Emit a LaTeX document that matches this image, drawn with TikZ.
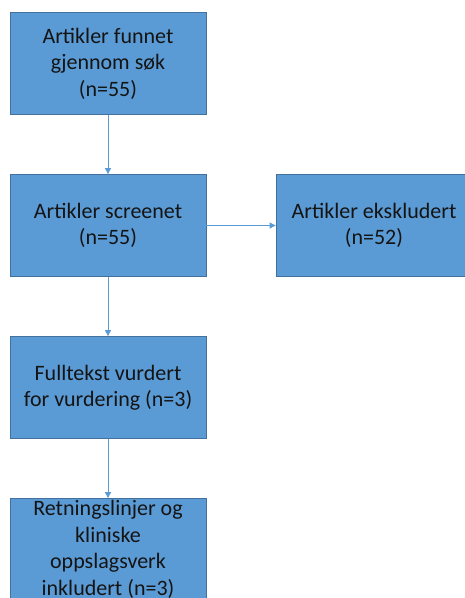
\documentclass[tikz,border=0pt]{standalone}
\usepackage{fontspec}
\setmainfont{Carlito}
\usepackage{tikz}
\usetikzlibrary{arrows.meta}
\definecolor{boxblue}{HTML}{5B9BD5}
\definecolor{boxline}{HTML}{41719C}
\definecolor{boxtext}{HTML}{141414}
\tikzstyle{step box} = [rectangle, minimum width=196pt, minimum height=102pt, inner sep=0pt, align=center, draw=boxline, line width=0.8pt, fill=boxblue, text=boxtext, font=\fontsize{22}{26.5}\selectfont]
\tikzstyle{arrow} = [draw=boxblue, line width=0.9pt, -{Triangle[length=6pt,width=6pt]}]

\begin{document}
\begin{tikzpicture}[node distance=162pt]
  \useasboundingbox (0,0) rectangle (465pt,-598pt);
  \clip (0,0) rectangle (465pt,-598pt);
  \node (found) [step box] at (108pt,-63.5pt) {Artikler funnet\\gjennom søk\\(n=55)};
  \node (screened) [step box, below of=found] {Artikler screenet\\(n=55)};
  \node (excluded) [step box, right of=screened, xshift=104pt] {Artikler ekskludert\\(n=52)};
  \node (fulltext) [step box, below of=screened] {Fulltekst vurdert\\for vurdering (n=3)};
  \node (included) [step box, below of=fulltext] {Retningslinjer og\\kliniske\\oppslagsverk\\inkludert (n=3)};

  \draw [arrow] (found) -- (screened);
  \draw [arrow] (screened) -- (excluded);
  \draw [arrow] (screened) -- (fulltext);
  \draw [arrow] (fulltext) -- (included);
\end{tikzpicture}
\end{document}
